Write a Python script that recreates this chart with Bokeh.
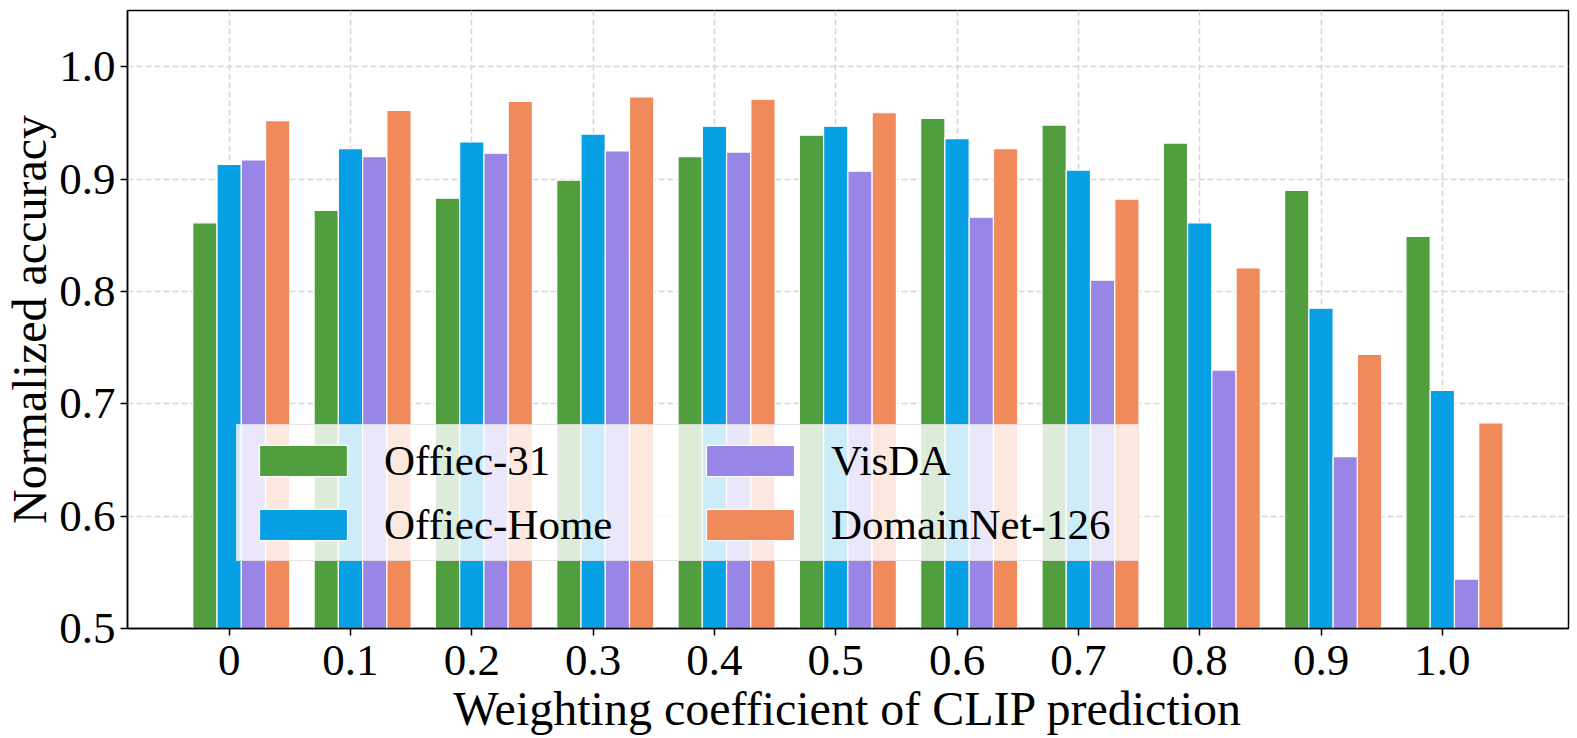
import numpy as np
from bokeh.plotting import figure
from bokeh.models import ColumnDataSource, FixedTicker, Legend, LegendItem, Range1d
from bokeh.embed import file_html
from bokeh.resources import INLINE

categories = ["0", "0.1", "0.2", "0.3", "0.4", "0.5", "0.6", "0.7", "0.8", "0.9", "1.0"]
series_names = ["Offiec-31", "Offiec-Home", "VisDA", "DomainNet-126"]
office31 = [0.861, 0.872, 0.883, 0.899, 0.920, 0.939, 0.954, 0.948, 0.932, 0.890, 0.849]
officehome = [0.913, 0.927, 0.933, 0.940, 0.947, 0.947, 0.936, 0.908, 0.861, 0.785, 0.712]
visda = [0.917, 0.920, 0.923, 0.925, 0.924, 0.907, 0.866, 0.810, 0.730, 0.653, 0.544]
domainnet = [0.952, 0.961, 0.969, 0.973, 0.971, 0.959, 0.927, 0.882, 0.821, 0.744, 0.683]
colors = ["#519e3e", "#08a0e4", "#9985e6", "#f18a5a"]
offsets = [-0.2, 0.0, 0.2, 0.4]
y_ticks = [0.5, 0.6, 0.7, 0.8, 0.9, 1.0]

FONT = "Liberation Serif"

p = figure(frame_width=1441, frame_height=618, output_backend="svg", toolbar_location=None,
           x_range=Range1d(-0.838, 11.04), y_range=Range1d(0.5, 1.05),
           min_border_left=126, min_border_top=10, min_border_right=8, min_border_bottom=100)

xs = np.arange(len(categories))
renderers = []
for name, vals, c, off in zip(series_names, [office31, officehome, visda, domainnet], colors, offsets):
    src = ColumnDataSource(dict(x=xs + off, top=vals))
    r = p.vbar(x="x", top="top", bottom=0.5, width=0.2, source=src,
               fill_color=c, line_color="white", line_width=1.2)
    renderers.append(r)

legend = Legend(items=[LegendItem(label=n, renderers=[r]) for n, r in zip(series_names, renderers)],
                location=(109, 67), ncols=2,
                label_text_font=FONT, label_text_font_size="43px", label_text_color="black",
                glyph_width=110, glyph_height=39, label_standoff=26, label_width=296,
                spacing=15, padding=11, margin=0,
                background_fill_alpha=0.8, border_line_color="#cccccc", border_line_width=1.5)
p.add_layout(legend, "center")

p.xaxis.ticker = FixedTicker(ticks=list(xs))
p.xaxis.major_label_overrides = {int(i): c for i, c in zip(xs, categories)}
p.yaxis.ticker = FixedTicker(ticks=y_ticks)
p.yaxis.major_label_overrides = {t: f"{t:.1f}" for t in y_ticks}

for ax in (p.xaxis[0], p.yaxis[0]):
    ax.major_label_text_font = FONT
    ax.major_label_text_font_size = "45px"
    ax.major_label_text_color = "black"
    ax.axis_label_text_font = FONT
    ax.axis_label_text_font_style = "normal"
    ax.axis_label_text_color = "black"
    ax.major_tick_in = 0
    ax.major_tick_out = 7
    ax.minor_tick_line_color = None
    ax.axis_line_color = "black"
    ax.axis_line_width = 1.5
    ax.major_tick_line_width = 1.5

p.xaxis.axis_label = "Weighting coefficient of CLIP prediction"
p.yaxis.axis_label = "Normalized accuracy"
p.xaxis.axis_label_text_font_size = "48px"
p.yaxis.axis_label_text_font_size = "48px"
p.xaxis.major_label_standoff = 10
p.xaxis.axis_label_standoff = 4
p.yaxis.major_label_standoff = 5
p.yaxis.axis_label_standoff = 0

p.grid.grid_line_color = "#d5d5d5"
p.grid.grid_line_dash = "6 3"
p.grid.grid_line_width = 1.5
p.outline_line_color = "black"
p.outline_line_width = 1.5

open("out.html", "w").write(file_html(p, INLINE))
